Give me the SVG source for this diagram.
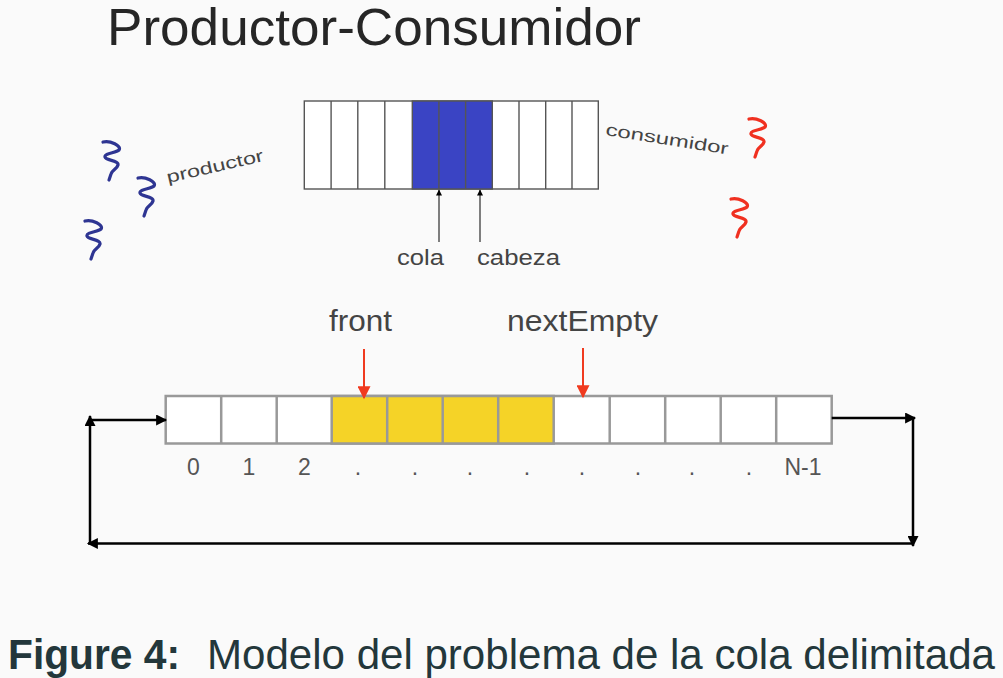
<svg xmlns="http://www.w3.org/2000/svg" width="1003" height="678" viewBox="0 0 1003 678">
<defs>
<style>
.cellT{stroke:#555;stroke-width:1.4}
.cellB{stroke:#999;stroke-width:2.5}
.lbl{font-family:"Liberation Sans",Arial,sans-serif;fill:#444}
.idx{font-family:"Liberation Sans",Arial,sans-serif;fill:#555;font-size:23px;text-anchor:middle}
.loop{stroke:#000;stroke-width:2.5;fill:none}
.red{stroke:#f03a1f;stroke-width:2;fill:none}
.ptr{stroke:#555;stroke-width:1.5;fill:none}
.sq{fill:none;stroke-width:3.2;stroke-linecap:round;stroke-linejoin:round}
</style>
<marker id="ahBlack" viewBox="0 0 10 10" refX="9" refY="5" markerWidth="5" markerHeight="4.4" orient="auto" markerUnits="strokeWidth"><path d="M0,0 L10,5 L0,10 z" fill="#000"/></marker>
<marker id="ahRed" viewBox="0 0 10 10" refX="9" refY="5" markerWidth="7" markerHeight="6.5" orient="auto" markerUnits="strokeWidth"><path d="M0,0 L10,5 L0,10 z" fill="#f03a1f"/></marker>
<marker id="ahSmall" viewBox="0 0 10 10" refX="9" refY="5" markerWidth="4.5" markerHeight="4" orient="auto" markerUnits="strokeWidth"><path d="M0,0 L10,5 L0,10 z" fill="#000"/></marker>
<path id="squig" d="M3,2 C10,0 22,6 19,10 C16,13 4,13 5,17 C6,21 19,20 18,25 C17,29 12,30 11,34 L9,40"/>
</defs>
<rect x="0" y="0" width="1003" height="678" fill="#fafafa"/>

<g id="title">
<text x="107" y="45" font-family="Liberation Sans, Arial, sans-serif" font-size="52" fill="#262626" textLength="534" lengthAdjust="spacingAndGlyphs">Productor-Consumidor</text>
</g>

<g id="top-queue">
<rect x="304.3" y="101" width="294" height="88" fill="#fff" class="cellT"/>
<rect x="412.3" y="101" width="80" height="88" fill="#3a44c4" class="cellT"/>
<g class="cellT">
<line x1="331.1" y1="101" x2="331.1" y2="189"/>
<line x1="357.8" y1="101" x2="357.8" y2="189"/>
<line x1="384.8" y1="101" x2="384.8" y2="189"/>
<line x1="438.9" y1="101" x2="438.9" y2="189"/>
<line x1="465.6" y1="101" x2="465.6" y2="189"/>
<line x1="519" y1="101" x2="519" y2="189"/>
<line x1="545.7" y1="101" x2="545.7" y2="189"/>
<line x1="572" y1="101" x2="572" y2="189"/>
</g>
</g>

<g id="producers">
<use href="#squig" transform="translate(100,140)" class="sq" stroke="#2e3592"/>
<use href="#squig" transform="translate(135,176)" class="sq" stroke="#2e3592"/>
<use href="#squig" transform="translate(82,219)" class="sq" stroke="#2e3592"/>
<text class="lbl" font-size="17" fill="#555" transform="translate(168,183) rotate(-13)" textLength="99" lengthAdjust="spacingAndGlyphs">productor</text>
</g>

<g id="consumers">
<use href="#squig" transform="translate(746,117)" class="sq" stroke="#f03020"/>
<use href="#squig" transform="translate(728,197)" class="sq" stroke="#f03020"/>
<text class="lbl" font-size="17" fill="#555" transform="translate(605,135) rotate(9)" textLength="124" lengthAdjust="spacingAndGlyphs">consumidor</text>
</g>

<g id="pointers-top">
<line x1="439" y1="242" x2="439" y2="190" class="ptr" marker-end="url(#ahSmall)"/>
<line x1="480" y1="242" x2="480" y2="190" class="ptr" marker-end="url(#ahSmall)"/>
<text x="397" y="265" class="lbl" font-size="22" textLength="47" lengthAdjust="spacingAndGlyphs">cola</text>
<text x="477" y="265" class="lbl" font-size="22" textLength="83" lengthAdjust="spacingAndGlyphs">cabeza</text>
</g>

<g id="bottom-queue">
<rect x="165.7" y="396" width="666" height="47.5" fill="#fff" class="cellB"/>
<rect x="331.7" y="396" width="222" height="47.5" fill="#f5d327" class="cellB"/>
<g class="cellB">
<line x1="221.2" y1="396" x2="221.2" y2="443.5"/>
<line x1="276.7" y1="396" x2="276.7" y2="443.5"/>
<line x1="387.2" y1="396" x2="387.2" y2="443.5"/>
<line x1="442.7" y1="396" x2="442.7" y2="443.5"/>
<line x1="498.2" y1="396" x2="498.2" y2="443.5"/>
<line x1="609.7" y1="396" x2="609.7" y2="443.5"/>
<line x1="665.2" y1="396" x2="665.2" y2="443.5"/>
<line x1="720.7" y1="396" x2="720.7" y2="443.5"/>
<line x1="776.2" y1="396" x2="776.2" y2="443.5"/>
</g>
</g>

<g id="indices">
<text x="193.5" y="475" class="idx">0</text>
<text x="249" y="475" class="idx">1</text>
<text x="304.5" y="475" class="idx">2</text>
<text x="358" y="475" class="idx">.</text>
<text x="415" y="475" class="idx">.</text>
<text x="470" y="475" class="idx">.</text>
<text x="527" y="475" class="idx">.</text>
<text x="582" y="475" class="idx">.</text>
<text x="638" y="475" class="idx">.</text>
<text x="692" y="475" class="idx">.</text>
<text x="749" y="475" class="idx">.</text>
<text x="803" y="475" class="idx">N-1</text>
</g>

<g id="bottom-pointers">
<text x="329" y="331" class="lbl" font-size="29" textLength="63" lengthAdjust="spacingAndGlyphs">front</text>
<text x="507" y="331" class="lbl" font-size="29" textLength="151" lengthAdjust="spacingAndGlyphs">nextEmpty</text>
<line x1="364" y1="349" x2="364" y2="398" class="red" marker-end="url(#ahRed)"/>
<line x1="583" y1="348" x2="583" y2="397" class="red" marker-end="url(#ahRed)"/>
</g>

<g id="connectors">
<line x1="831.7" y1="418" x2="915" y2="418" class="loop" marker-end="url(#ahBlack)"/>
<line x1="913" y1="418" x2="913" y2="546" class="loop" marker-end="url(#ahBlack)"/>
<line x1="913" y1="543.5" x2="88" y2="543.5" class="loop" marker-end="url(#ahBlack)"/>
<line x1="90" y1="543.5" x2="90" y2="416" class="loop" marker-end="url(#ahBlack)"/>
<line x1="90" y1="420" x2="166" y2="420" class="loop" marker-end="url(#ahBlack)"/>
</g>

<g id="caption">
<text x="8" y="669" font-family="Liberation Sans, Arial, sans-serif" font-size="42" font-weight="bold" fill="#23373b" textLength="172" lengthAdjust="spacingAndGlyphs">Figure 4:</text>
<text x="207" y="669" font-family="Liberation Sans, Arial, sans-serif" font-size="42" fill="#23373b" textLength="788" lengthAdjust="spacingAndGlyphs">Modelo del problema de la cola delimitada</text>
</g>
</svg>
